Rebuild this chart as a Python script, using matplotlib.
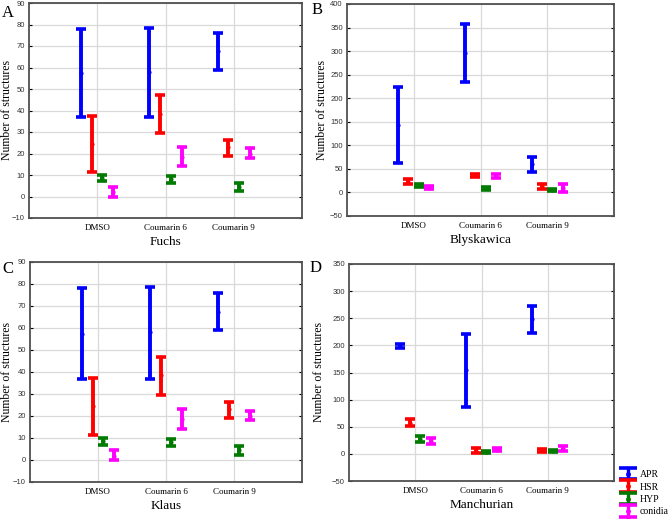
import numpy as np
import matplotlib.pyplot as plt
from matplotlib.lines import Line2D
from matplotlib.legend_handler import HandlerBase

plt.rcParams['font.family'] = ['Liberation Serif', 'DejaVu Serif']

grupos = ["DMSO", "Coumarin 6", "Coumarin 9"]
series = ["APR", "HSR", "HYP", "conidia"]
cores = ["#0000ff", "#ff0000", "#007a00", "#ff00ff"]

# media, minimo, maximo por serie (linhas) e grupo (colunas)
fuchs_media = [[57.5, 58, 67.5], [24.5, 38.5, 23], [8.5, 8, 4.5], [2, 18.5, 20]]
fuchs_min = [[37, 37, 59], [11.5, 29.5, 19], [7, 6.5, 2.5], [0, 14, 18]]
fuchs_max = [[78, 78.5, 76], [37.5, 47, 26.5], [10, 9.5, 6.5], [4.5, 23, 22.5]]

blys_media = [[143, 297, 60], [23, 36, 13], [15, 9, 5], [10, 35, 10]]
blys_min = [[62, 234, 44], [18, 32, 8], [12, 6, 3], [7, 30, 2]]
blys_max = [[223, 358, 76], [28, 40, 17], [17, 12, 7], [13, 40, 18]]

klaus_media = [[57.5, 58, 67.5], [24.5, 38.5, 23], [8.5, 8, 4.5], [2, 18.5, 20]]
klaus_min = [[37, 37, 59], [11.5, 29.5, 19], [7, 6.5, 2.5], [0, 14, 18]]
klaus_max = [[78, 78.5, 76], [37.5, 47, 26.5], [10, 9.5, 6.5], [4.5, 23, 22.5]]

manch_media = [[199, 155, 248], [57, 6, 7], [27, 4, 5], [24, 8, 10]]
manch_min = [[195, 87, 223], [51, 2, 4], [22, 2, 3], [18, 5, 6]]
manch_max = [[203, 221, 273], [64, 10, 9], [33, 6, 7], [30, 11, 14]]

W, H = 671, 519

# letra, nome, dados, ylim, ticks, caixa (px), pos. ylabel, pos. letra (px)
paineis = [
    ("A", "Fuchs", fuchs_media, fuchs_min, fuchs_max, (-10, 90), np.arange(-10, 91, 10),
     (29, 3, 302, 218), 13, (2, 17)),
    ("B", "Blyskawica", blys_media, blys_min, blys_max, (-50, 400), np.arange(-50, 401, 50),
     (347, 4, 614, 216), 328, (312, 14)),
    ("C", "Klaus", klaus_media, klaus_min, klaus_max, (-10, 90), np.arange(-10, 91, 10),
     (30, 262, 302, 482), 13, (2, 273)),
    ("D", "Manchurian", manch_media, manch_min, manch_max, (-50, 350), np.arange(-50, 351, 50),
     (349, 264, 614, 481), 325, (310, 272)),
]

deslocamento = [-0.235, -0.08, 0.075, 0.235]


class HandlerBarra(HandlerBase):
    def create_artists(self, legend, orig, xd, yd, w, h, fontsize, trans):
        c = orig.get_color()
        x0, x1 = -xd, -xd + w
        xm = (x0 + x1) / 2
        y0, y1 = -yd - 0.35 * h, -yd + 1.35 * h
        arts = [
            Line2D([x0, x1], [y0, y0], color=c, lw=2.6, solid_capstyle='butt'),
            Line2D([x0, x1], [y1, y1], color=c, lw=2.6, solid_capstyle='butt'),
            Line2D([xm, xm], [y0, y1], color=c, lw=2.4),
            Line2D([xm], [(y0 + y1) / 2], color=c, marker='o', markersize=2.5, lw=0),
        ]
        for a in arts:
            a.set_transform(trans)
        return arts


fig = plt.figure(figsize=(W / 100, H / 100), dpi=100)

for letra, nome, media, mn, mx, ylim, yticks, caixa, ylab_x, letra_xy in paineis:
    l, t, r, b = caixa
    ax = fig.add_axes([l / W, 1 - b / H, (r - l) / W, (b - t) / H])
    x = np.arange(1, len(grupos) + 1)
    for i in range(len(series)):
        m = np.array(media[i], dtype=float)
        lo = m - np.array(mn[i])
        hi = np.array(mx[i]) - m
        ax.errorbar(x + deslocamento[i], m, yerr=[lo, hi], fmt='o', color=cores[i],
                    ecolor=cores[i], elinewidth=2.8, capsize=3.6, capthick=2.6,
                    markersize=2.0, zorder=3)
    ax.set_xlim(0, 4)
    ax.set_ylim(*ylim)
    ax.set_yticks(yticks)
    ax.set_xticks(x)
    ax.set_xticklabels(grupos, fontsize=6.5)
    ax.grid(True, color="#d9d9d9", linewidth=0.9, zorder=0)
    ax.set_axisbelow(True)
    for s in ax.spines.values():
        s.set_color("#505050")
        s.set_linewidth(1.3)
    ax.tick_params(axis='y', direction='in', length=2, right=True, labelsize=5.5,
                   labelcolor="#333333", pad=3)
    for tl in ax.get_yticklabels():
        tl.set_family(['Liberation Sans', 'DejaVu Sans'])
    ax.tick_params(axis='x', length=0, pad=4)
    ax.set_xlabel(nome, fontsize=9.5, labelpad=3)
    ax.set_ylabel("Number of structures", fontsize=8.5)
    ax.yaxis.set_label_coords((ylab_x - l) / (r - l), 0.5)
    fig.text(letra_xy[0] / W, 1 - letra_xy[1] / H, letra, fontsize=12,
             ha='left', va='baseline')

proxies = [Line2D([], [], color=c) for c in cores]
fig.legend(proxies, series, loc='upper left', bbox_to_anchor=(619 / W, 1 - 470 / H),
           frameon=False, fontsize=7, handlelength=1.8, handletextpad=0.3,
           labelspacing=0.36, borderpad=0, borderaxespad=0,
           handler_map={Line2D: HandlerBarra()})

fig.savefig("out.png", dpi=100)
